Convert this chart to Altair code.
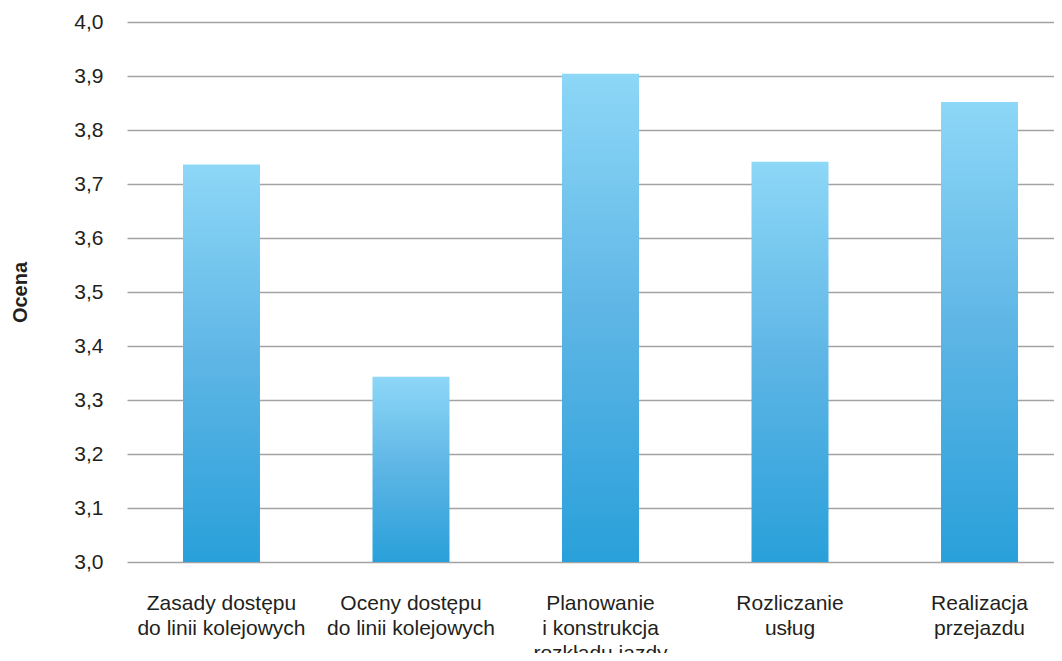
import altair as alt
import pandas as pd

categories = [
    "Zasady dostępu\ndo linii kolejowych",
    "Oceny dostępu\ndo linii kolejowych",
    "Planowanie\ni konstrukcja\nrozkładu jazdy",
    "Rozliczanie\nusług",
    "Realizacja\nprzejazdu",
]
values = [3.736, 3.343, 3.904, 3.741, 3.852]
baseline = [3.0, 3.0, 3.0, 3.0, 3.0]
y_ticks = [3.0, 3.1, 3.2, 3.3, 3.4, 3.5, 3.6, 3.7, 3.8, 3.9, 4.0]

df = pd.DataFrame({"kategoria": categories, "ocena": values, "base": baseline})

FONT = "Liberation Sans"
TEXT = "#231f20"

gradient = alt.Gradient(
    gradient="linear",
    x1=0, x2=0, y1=0, y2=1,
    stops=[
        alt.GradientStop(offset=0, color="#8dd7f7"),
        alt.GradientStop(offset=0.5, color="#5db5e5"),
        alt.GradientStop(offset=1, color="#29a0da"),
    ],
)

chart = (
    alt.Chart(df)
    .mark_bar(fill=gradient)
    .encode(
        x=alt.X(
            "kategoria:N",
            sort=categories,
            scale=alt.Scale(paddingInner=0.5937, paddingOuter=0.2427, align=0.6087, round=False),
            axis=alt.Axis(
                title=None,
                labelAngle=0,
                labelExpr="split(datum.label, '\\n')",
                labelFont=FONT,
                labelFontSize=21,
                labelColor=TEXT,
                labelLineHeight=25,
                labelBaseline="top",
                labelPadding=30,
                ticks=False,
                domain=False,
                grid=False,
                labelLimit=300,
            ),
        ),
        y=alt.Y(
            "ocena:Q",
            scale=alt.Scale(domain=[3.0, 4.0], zero=False, nice=False),
            axis=alt.Axis(
                title="Ocena",
                values=y_ticks,
                labelExpr="replace(format(datum.value, '.1f'), '.', ',')",
                labelFont=FONT,
                labelFontSize=21,
                labelColor=TEXT,
                labelPadding=24,
                ticks=False,
                domain=False,
                grid=True,
                gridColor="#a3a3a3",
                gridWidth=1.3,
                titleFont=FONT,
                titleFontSize=20,
                titleFontWeight="bold",
                titleColor=TEXT,
                titleAngle=270,
                titleAlign="center",
                titleBaseline="middle",
                titleX=-107,
                titleY=270,
            ),
        ),
        y2="base:Q",
    )
    .properties(
        width=927,
        height=540,
        padding={"left": 119, "top": 14, "right": 0, "bottom": 91},
        autosize=alt.AutoSizeParams(type="none"),
    )
    .configure_view(stroke=None)
)

chart.save("out.html", embed_options={"renderer": "svg", "actions": False})
